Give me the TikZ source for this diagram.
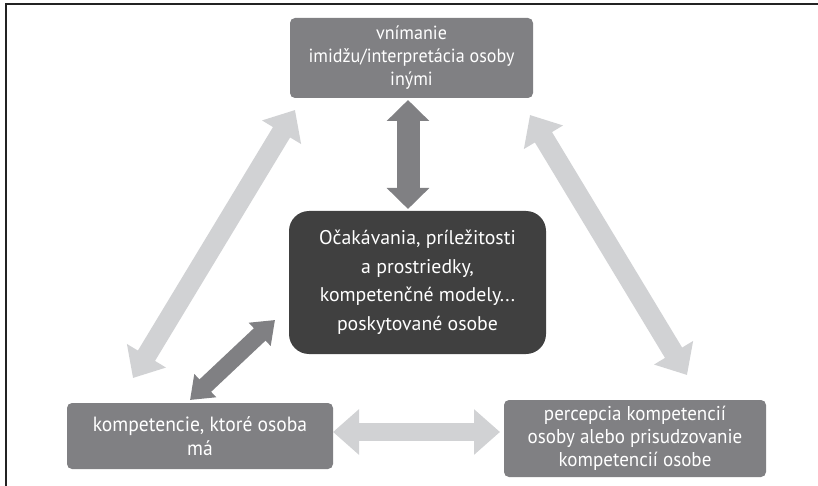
\documentclass[tikz,border=0pt]{standalone}
\usepackage{fontspec}
\setmainfont{PT Sans}
\newfontfamily\narrowsans[FakeStretch=0.95]{PT Sans}
\usetikzlibrary{arrows.meta}
\definecolor{boxgray}{RGB}{128,128,131}
\definecolor{boxdark}{RGB}{64,64,64}
\definecolor{arrowlight}{RGB}{209,210,212}
\definecolor{framecol}{RGB}{35,35,35}
\tikzset{
  x=1pt, y=-1pt,
  outerbox/.style={fill=boxgray, text=white, rounded corners=5pt, align=center,
    inner sep=0pt, font=\narrowsans\fontsize{19}{23}\selectfont},
  centerbox/.style={fill=boxdark, text=white, rounded corners=20pt, align=center,
    inner sep=0pt, minimum width=257pt, minimum height=143pt,
    font=\fontsize{19.8}{28.5}\selectfont},
  lightarrow/.style={arrowlight, line width=20pt,
    {Triangle[length=26pt,width=44pt]}-{Triangle[length=26pt,width=44pt]}},
  darkarrow/.style={boxgray, line width=#1,
    {Triangle[length=21pt,width=1.8*#1]}-{Triangle[length=21pt,width=1.8*#1]}},
}
\begin{document}
\begin{tikzpicture}
\useasboundingbox (0,0) rectangle (818,486);
% frame lines on top and left
\draw[framecol, line width=2pt] (5,4) -- (818,4);
\draw[framecol, line width=2pt] (6,4) -- (6,486);

% boxes
\node[outerbox, minimum width=243pt, minimum height=80pt] (image) at (411.5,58)
  {\raisebox{-2pt}{\parbox{243pt}{\centering vnímanie\\imidžu/interpretácia osoby\\inými}}};
\node[centerbox] (context) at (417.5,282.5)
  {Očakávania, príležitosti\\a prostriedky,\\kompetenčné modely...\\poskytované osobe};
\node[outerbox, minimum width=266pt, minimum height=66pt,
  font=\narrowsans\fontsize{20.6}{24}\selectfont] (has) at (200,436)
  {kompetencie, ktoré osoba\\má};
\node[outerbox, minimum width=262pt, minimum height=77pt,
  font=\narrowsans\fontsize{20}{23}\selectfont] (perc) at (635,438.5)
  {percepcia kompetencií\\osoby alebo prisudzovanie\\kompetencií osobe};

% arrow end points
\coordinate (v1) at (408,100);
\coordinate (v2) at (408,209);
\coordinate (l1) at (133,378);
\coordinate (l2) at (295,110);
\coordinate (r1) at (530,115);
\coordinate (r2) at (687,375);
\coordinate (d1) at (190,400);
\coordinate (d2) at (275,320);
\coordinate (h1) at (333,432);
\coordinate (h2) at (500,432);

% connectors
\draw[lightarrow] (l1) -- (l2);
\draw[lightarrow] (r1) -- (r2);
\draw[lightarrow, line width=18pt] (h1) -- (h2);
\draw[darkarrow=23pt] (v1) -- (v2);
\draw[darkarrow=17pt] (d1) -- (d2);
\end{tikzpicture}
\end{document}
